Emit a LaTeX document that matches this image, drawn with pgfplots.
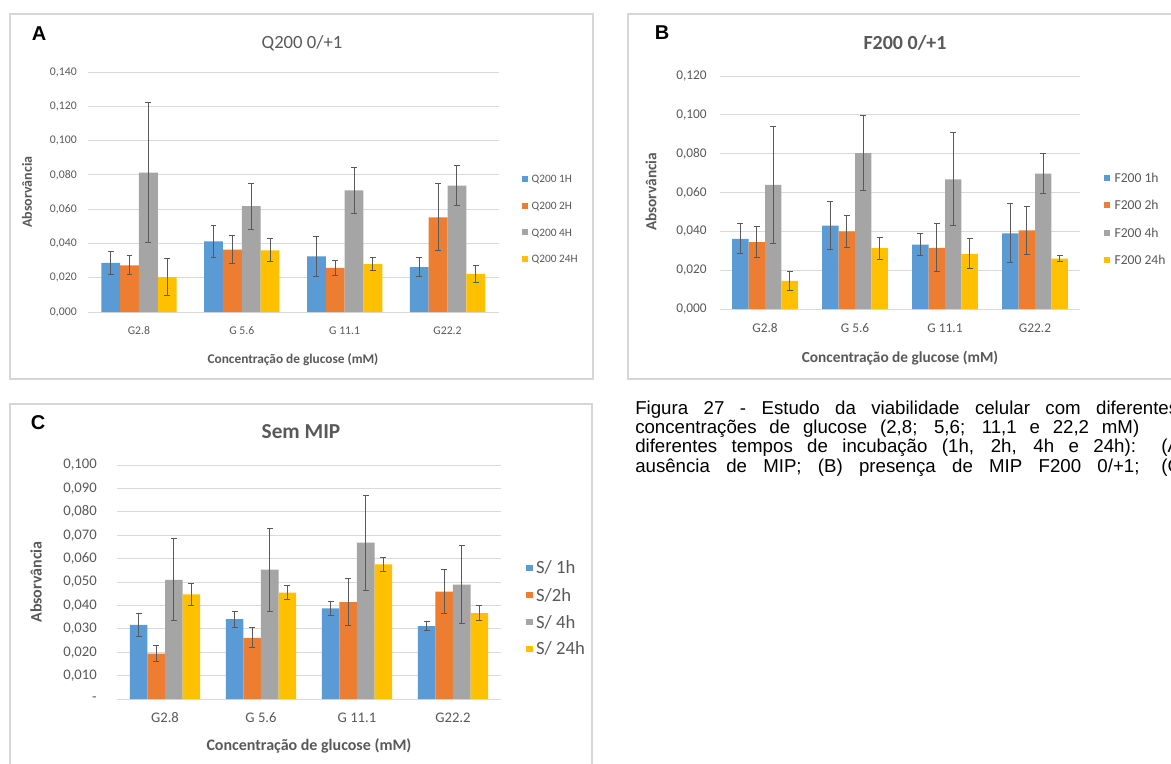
\documentclass[border=0pt]{standalone}
\usepackage{fontspec}
\setmainfont{Carlito}
\newfontfamily\arialfont{Liberation Sans}
\usepackage{pgfplots}
\pgfplotsset{compat=1.18}
\usepackage{pgfplotstable}
\definecolor{cblue}{HTML}{5B9BD5}
\definecolor{corange}{HTML}{ED7D31}
\definecolor{cgray}{HTML}{A5A5A5}
\definecolor{cyellow}{HTML}{FFC000}
\definecolor{tickgray}{HTML}{595959}
\definecolor{gridgray}{HTML}{D9D9D9}
\definecolor{errgray}{HTML}{595959}
\definecolor{framegray}{HTML}{D6D6D6}

\pgfplotstableread{
x b be o oe g ge y ye
0 0.0286 0.0065 0.0272 0.0055 0.0813 0.0410 0.0204 0.0110
1 0.0412 0.0093 0.0364 0.0083 0.0618 0.0134 0.0360 0.0068
2 0.0325 0.0116 0.0257 0.0043 0.0710 0.0135 0.0280 0.0037
3 0.0262 0.0057 0.0552 0.0196 0.0737 0.0117 0.0222 0.0050
}\tabA
\pgfplotstableread{
x b be o oe g ge y ye
0 0.0361 0.0077 0.0344 0.0080 0.0639 0.0300 0.0145 0.0050
1 0.0429 0.0125 0.0400 0.0084 0.0803 0.0192 0.0313 0.0056
2 0.0332 0.0059 0.0315 0.0124 0.0668 0.0240 0.0284 0.0077
3 0.0390 0.0153 0.0405 0.0125 0.0697 0.0104 0.0260 0.0016
}\tabB
\pgfplotstableread{
x b be o oe g ge y ye
0 0.0317 0.0049 0.0194 0.0033 0.0509 0.0175 0.0447 0.0048
1 0.0341 0.0034 0.0261 0.0043 0.0553 0.0177 0.0455 0.0030
2 0.0387 0.0029 0.0414 0.0100 0.0668 0.0203 0.0575 0.0030
3 0.0311 0.0020 0.0459 0.0094 0.0489 0.0168 0.0367 0.0032
}\tabC

\pgfplotsset{
 excel/.style={scale only axis, xmin=-0.5, xmax=3.5, ymin=0, xtick={0,1,2,3},
  xticklabels={G2.8, G 5.6, G 11.1, G22.2},
  axis line style={draw=none}, major tick length=0pt,
  ymajorgrids, grid style={draw=gridgray, line width=0.7pt},
  tick label style={text=tickgray},
  xticklabel style={anchor=center, inner sep=0pt, yshift=-14.25pt},
  yticklabel style={anchor=east, inner sep=0pt},
  clip=false,
  legend cell align=left,
 },
 sq/.style={legend image code/.code={\fill[##1,draw=none] (0pt,-#1) rectangle (2*#1,#1);}},
 ser/.style={ybar, bar width=0.183, bar shift=0pt, fill=#1, draw=none,
   error bars/.cd, y dir=both, y explicit,
   error bar style={line width=0.75pt, draw=errgray},
   error mark options={rotate=90, mark size=2.2pt, line width=0.75pt, draw=errgray}},
}
\newcommand{\fsz}[1]{\fontsize{#1}{#1}\selectfont}

\begin{document}
\begin{tikzpicture}
\useasboundingbox (0,0) rectangle (878.25pt,-573pt);
\fill[white] (0,0) rectangle (878.25pt,-573pt);
\clip (0,0) rectangle (878.25pt,-573pt);
% frames
\draw[framegray, line width=1pt] (7.5pt,-10.5pt) rectangle (444.75pt,-284.25pt);
\draw[framegray, line width=1pt] (471pt,-10.5pt) rectangle (892.5pt,-284.25pt);
\draw[framegray, line width=1pt] (7.5pt,-303pt) rectangle (444pt,-585pt);

% ---------------- Panel A
\begin{axis}[excel, sq=2.25pt, at={(65.625pt,-234pt)}, anchor=south west, width=308.6pt, height=180pt,
  ymax=0.14, ytick={0,0.02,0.04,0.06,0.08,0.1,0.12,0.14},
  yticklabels={{0,000},{0,020},{0,040},{0,060},{0,080},{0,100},{0,120},{0,140}},
  yticklabel style={font=\fsz{8.8}, xshift=-7.9pt},
  xticklabel style={font=\fsz{8.8}},
  legend style={at={(1.0559,0.3875)}, anchor=west, draw=none, fill=none, inner sep=0pt,
    row sep=14.5pt, font=\fsz{8.5}, text=tickgray,
    nodes={inner sep=0pt, anchor=west, text height=5.5pt, text depth=0pt},
    /tikz/every odd column/.append style={column sep=2.6pt}}]
\addplot[ser=cblue] table[x expr=\thisrow{x}-0.2745,y=b,y error=be]{\tabA};
\addplot[ser=corange] table[x expr=\thisrow{x}-0.0915,y=o,y error=oe]{\tabA};
\addplot[ser=cgray] table[x expr=\thisrow{x}+0.0915,y=g,y error=ge]{\tabA};
\addplot[ser=cyellow] table[x expr=\thisrow{x}+0.2745,y=y,y error=ye]{\tabA};
\legend{Q200 1H, Q200 2H, Q200 4H, Q200 24H}
\end{axis}
\node[font=\arialfont\bfseries\fsz{15}] at (29.25pt,-25.5pt) {A};
\node[font=\fsz{14}, text=tickgray] at (226.5pt,-32.25pt) {Q200 0/+1};
\node[font=\bfseries\fsz{10.5}, text=tickgray, rotate=90] at (20.25pt,-144pt) {Absorvância};
\node[font=\bfseries\fsz{10}, text=tickgray] at (219.75pt,-270pt) {Concentração de glucose (mM)};

% ---------------- Panel B
\begin{axis}[excel, sq=2.25pt, at={(540pt,-231.75pt)}, anchor=south west, width=270pt, height=174.75pt,
  ymax=0.12, ytick={0,0.02,0.04,0.06,0.08,0.1,0.12},
  yticklabels={{0,000},{0,020},{0,040},{0,060},{0,080},{0,100},{0,120}},
  yticklabel style={font=\fsz{10}, xshift=-9.75pt},
  xticklabel style={font=\fsz{10}},
  legend style={at={(1.0667,0.386)}, anchor=west, draw=none, fill=none, inner sep=0pt,
    row sep=13.9pt, font=\fsz{10.2}, text=tickgray,
    nodes={inner sep=0pt, anchor=west, text height=6.6pt, text depth=0pt},
    /tikz/every odd column/.append style={column sep=3.2pt}}]
\addplot[ser=cblue] table[x expr=\thisrow{x}-0.2745,y=b,y error=be]{\tabB};
\addplot[ser=corange] table[x expr=\thisrow{x}-0.0915,y=o,y error=oe]{\tabB};
\addplot[ser=cgray] table[x expr=\thisrow{x}+0.0915,y=g,y error=ge]{\tabB};
\addplot[ser=cyellow] table[x expr=\thisrow{x}+0.2745,y=y,y error=ye]{\tabB};
\legend{F200 1h, F200 2h, F200 4h, F200 24h}
\end{axis}
\node[font=\arialfont\bfseries\fsz{15}] at (496.5pt,-24.75pt) {B};
\node[font=\bfseries\fsz{15}, text=tickgray] at (678.75pt,-32.25pt) {F200 0/+1};
\node[font=\bfseries\fsz{11.5}, text=tickgray, rotate=90] at (488.25pt,-144pt) {Absorvância};
\node[font=\bfseries\fsz{11.5}, text=tickgray] at (675pt,-268.5pt) {Concentração de glucose (mM)};

% ---------------- Panel C
\begin{axis}[excel, sq=2.5pt, at={(87.75pt,-524.25pt)}, anchor=south west, width=288pt, height=175.5pt,
  ymax=0.1, ytick={0,0.01,0.02,0.03,0.04,0.05,0.06,0.07,0.08,0.09,0.1},
  yticklabels={-,{0,010},{0,020},{0,030},{0,040},{0,050},{0,060},{0,070},{0,080},{0,090},{0,100}},
  yticklabel style={font=\fsz{11}, xshift=-15pt},
  xticklabel style={font=\fsz{11}},
  legend style={at={(1.065,0.3868)}, anchor=west, draw=none, fill=none, inner sep=0pt,
    row sep=11.25pt, font=\fsz{14}, text=tickgray,
    nodes={inner sep=0pt, anchor=west, text height=9pt, text depth=0pt},
    /tikz/every odd column/.append style={column sep=2.4pt}}]
\addplot[ser=cblue] table[x expr=\thisrow{x}-0.2745,y=b,y error=be]{\tabC};
\addplot[ser=corange] table[x expr=\thisrow{x}-0.0915,y=o,y error=oe]{\tabC};
\addplot[ser=cgray] table[x expr=\thisrow{x}+0.0915,y=g,y error=ge]{\tabC};
\addplot[ser=cyellow] table[x expr=\thisrow{x}+0.2745,y=y,y error=ye]{\tabC};
\legend{S/ 1h, S/2h, S/ 4h, S/ 24h}
\end{axis}
\node[font=\arialfont\bfseries\fsz{15}] at (28.5pt,-317.25pt) {C};
\node[font=\bfseries\fsz{16}, text=tickgray] at (225.75pt,-324pt) {Sem MIP};
\node[font=\bfseries\fsz{12}, text=tickgray, rotate=90] at (27pt,-436.5pt) {Absorvância};
\node[font=\bfseries\fsz{12}, text=tickgray] at (231.75pt,-559.5pt) {Concentração de glucose (mM)};

% ---------------- Caption
\begin{scope}[font=\arialfont\fsz{14}]
\node[anchor=base west, inner sep=0pt] at (476.25pt,-310.5pt) {\makebox[407.25pt][s]{Figura 27 - Estudo da viabilidade celular com diferentes}};
\node[anchor=base west, inner sep=0pt] at (476.25pt,-325pt) {\makebox[378pt][s]{concentrações de glucose (2,8; 5,6; 11,1 e 22,2 mM)}};
\node[anchor=base west, inner sep=0pt] at (476.25pt,-339.6pt) {\makebox[413.25pt][s]{diferentes tempos de incubação (1h, 2h, 4h e 24h): (A)}};
\node[anchor=base west, inner sep=0pt] at (476.25pt,-354.2pt) {\makebox[414pt][s]{ausência de MIP; (B) presença de MIP F200 0/+1; (C)}};
\end{scope}
\end{tikzpicture}
\end{document}
